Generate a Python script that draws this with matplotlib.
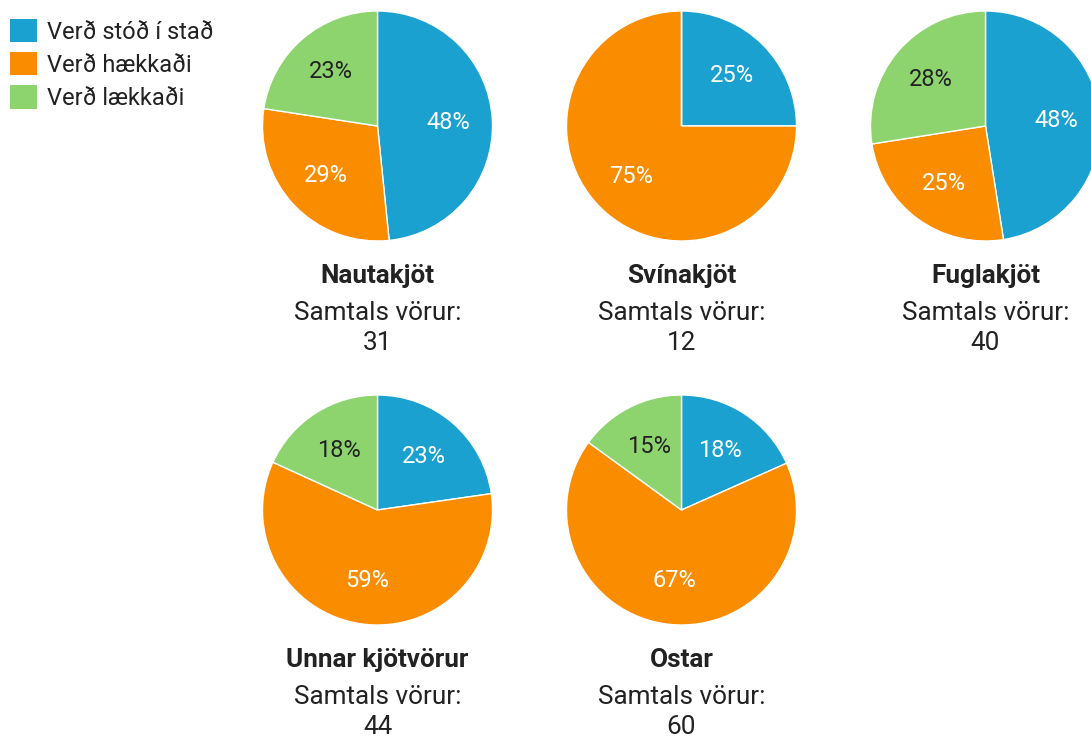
import matplotlib
matplotlib.use("Agg")
import matplotlib.pyplot as plt
from matplotlib.patches import Patch

plt.rcParams['font.family'] = ['Roboto', 'DejaVu Sans']

# Data
series_labels = ["Verð stóð í stað", "Verð hækkaði", "Verð lækkaði"]
colors = ["#1aa1cf", "#fa8c00", "#8dd46f"]
categories = ["Nautakjöt", "Svínakjöt", "Fuglakjöt", "Unnar kjötvörur", "Ostar"]
stod = [15, 3, 19, 10, 11]
haekkadi = [9, 9, 10, 26, 40]
laekkadi = [7, 0, 11, 8, 9]
totals = [31, 12, 40, 44, 60]
subtitle = "Samtals vörur:"

W, H = 1091, 736
fig = plt.figure(figsize=(W / 100, H / 100), dpi=100)
fig.patch.set_facecolor("white")

centers = [(377.5, 126), (681.5, 126), (985.5, 126), (377.5, 510), (681.5, 510)]
R = 115

def fmt(p):
    if p < 0.5:
        return ""
    return "%d%%" % int(p + 0.5 + 1e-9)

for i, cat in enumerate(categories):
    cx, cy = centers[i]
    ax = fig.add_axes([(cx - R) / W, 1 - (cy + R) / H, 2 * R / W, 2 * R / H])
    vals = [stod[i], haekkadi[i], laekkadi[i]]
    wedges, texts, autotexts = ax.pie(
        vals, colors=colors, startangle=90, counterclock=False,
        autopct=fmt, pctdistance=0.62, radius=1,
        wedgeprops=dict(edgecolor="white", linewidth=1.0),
        textprops=dict(fontsize=17, color="white"))
    for j, t in enumerate(autotexts):
        t.set_color("#222222" if j == 2 else "white")
    ax.set_xlim(-1, 1)
    ax.set_ylim(-1, 1)
    ax.set_aspect("equal")
    ax.axis("off")
    fig.text(cx / W, 1 - (cy + 150) / H, cat, ha="center", va="center",
             fontsize=18.8, fontweight="bold", color="#222222")
    fig.text(cx / W, 1 - (cy + 187) / H, subtitle, ha="center", va="center",
             fontsize=18.8, color="#222222")
    fig.text(cx / W, 1 - (cy + 217) / H, str(totals[i]), ha="center", va="center",
             fontsize=18.8, color="#222222")

handles = [Patch(facecolor=c, edgecolor="none") for c in colors]
fig.legend(handles, series_labels, loc="upper left", bbox_to_anchor=(10 / W, 1 - 19 / H),
           frameon=False, fontsize=17, handlelength=1.14, handleheight=1.14,
           handletextpad=0.42, labelspacing=0.36, borderaxespad=0, borderpad=0,
           labelcolor="#222222")

fig.savefig("out.png", dpi=100, facecolor="white")
